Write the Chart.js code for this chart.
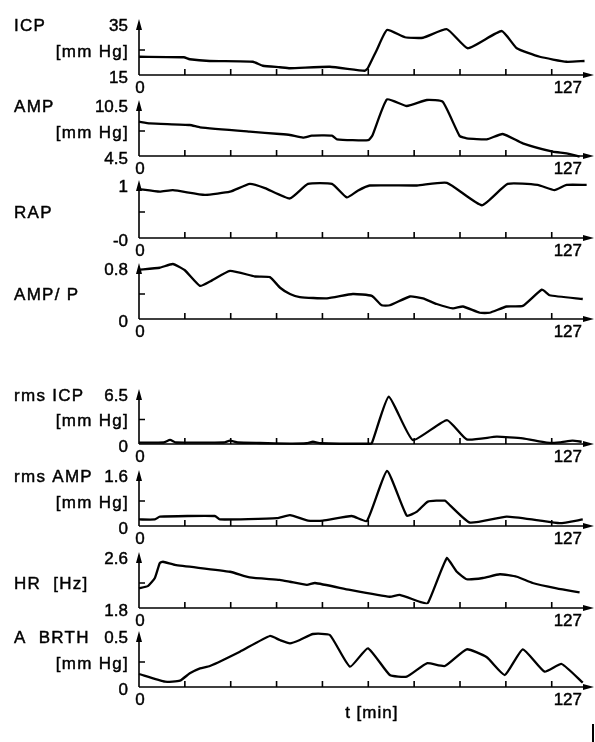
<!DOCTYPE html>
<html>
<head>
<meta charset="utf-8">
<script src="https://cdn.jsdelivr.net/npm/chart.js@4"></script>
<style>
  body { margin: 0; background: #fff; }
  #wrap { position: relative; width: 595px; height: 742px; }
  #wrap canvas { position: absolute; left: 0; top: 0; }
</style>
</head>
<body>
<div id="wrap"></div>
<script>
// time [min] and values
const icpT = [0, 12.7, 14.4, 20, 32.3, 35.1, 39.9, 42.8, 54.1, 64, 64.9, 67.4, 70.3, 75.4, 80.5, 87.3, 93.2, 102.8, 107.1, 113.6, 121.2, 126.3];
const icpV = [22.3, 22.1, 21.3, 20.6, 20.3, 18.7, 18.1, 17.7, 18.3, 16.7, 17.8, 25, 33, 30.1, 29.9, 33.3, 25.7, 32.6, 25.7, 22.3, 20.3, 20.6];

const ampT = [0, 3.1, 14.4, 17.3, 31.4, 39.9, 42.8, 46.5, 49, 54.7, 56.1, 65, 66.2, 70.3, 75.9, 81.6, 86.1, 90.9, 92.9, 98.6, 103.1, 108.8, 117.3, 121.2, 124.9];
const ampV = [8.62, 8.42, 8.22, 7.94, 7.42, 7.14, 7.02, 6.7, 6.94, 6.94, 6.5, 6.4, 7.0, 11.3, 10.5, 11.22, 11.0, 6.9, 6.62, 6.5, 7.14, 6.02, 5.02, 4.82, 4.42];

const rapT = [0, 5.9, 9.6, 18.7, 25.8, 31.4, 35.7, 42.8, 47.9, 54.7, 58.9, 62, 65.4, 78.8, 87.3, 97.2, 104.5, 113, 117.8, 121.2, 126.9];
const rapV = [0.94, 0.89, 0.92, 0.83, 0.89, 1.04, 0.96, 0.76, 1.04, 1.04, 0.78, 0.91, 1.01, 1.01, 1.06, 0.63, 1.04, 1.02, 0.92, 1.02, 1.02];

const ampPT = [0, 5.9, 9.6, 13, 17.3, 20.1, 25.8, 32.9, 37.1, 40, 42.8, 45.6, 53.3, 60.6, 66, 68.8, 71.1, 76.8, 80.5, 84.4, 89, 91.8, 96.6, 99.4, 104.2, 108.8, 114.2, 116.4, 125.8];
const ampPV = [0.79, 0.82, 0.88, 0.78, 0.53, 0.6, 0.77, 0.68, 0.67, 0.5, 0.4, 0.35, 0.33, 0.4, 0.37, 0.22, 0.22, 0.36, 0.33, 0.24, 0.17, 0.2, 0.1, 0.1, 0.2, 0.21, 0.47, 0.38, 0.32];

const rmsIcpT = [0, 7, 8.8, 10.5, 24, 25.8, 28, 34.3, 42.8, 47.5, 49.3, 51.5, 64.9, 66, 70.8, 77.6, 87.3, 92.9, 101.4, 108.8, 115.6, 119.3, 122.9, 125.5];
const rmsIcpV = [0.17, 0.2, 0.55, 0.2, 0.2, 0.45, 0.2, 0.13, 0.05, 0.1, 0.3, 0.1, 0.03, 0.1, 6.27, 0.53, 3.18, 0.62, 0.97, 0.75, 0.17, 0.22, 0.44, 0.3];

const rmsAmpT = [0, 4.5, 5.9, 21.5, 22.9, 39.1, 42.8, 47.9, 52.1, 60.3, 64.6, 70.3, 75.9, 78.8, 81.9, 86.7, 88.1, 93.8, 104.2, 112.7, 119.3, 125.8];
const rmsAmpV = [0.21, 0.21, 0.3, 0.32, 0.21, 0.25, 0.35, 0.17, 0.17, 0.32, 0.16, 1.76, 0.33, 0.46, 0.78, 0.81, 0.67, 0.11, 0.3, 0.19, 0.09, 0.21];

const hrT = [0, 2.5, 4.5, 5.9, 6.8, 10.2, 25.8, 31.4, 39.9, 42.8, 47.6, 49.9, 59.8, 71.1, 73.9, 79.6, 81.9, 87.3, 90.1, 92.9, 97.5, 102.3, 107.1, 111.6, 118.4, 124.9];
const hrV = [2.115, 2.15, 2.28, 2.52, 2.54, 2.49, 2.38, 2.29, 2.25, 2.22, 2.17, 2.2, 2.09, 1.98, 2.01, 1.9, 1.88, 2.6, 2.38, 2.26, 2.28, 2.34, 2.3, 2.2, 2.115, 2.05];

const brthT = [0, 7.4, 11.6, 14.4, 17.3, 20.1, 28.6, 37.1, 39.9, 42.8, 45.6, 49.3, 54.1, 59.8, 64.9, 71.1, 75.9, 81.6, 86.7, 92.9, 98.6, 103.7, 108.8, 115, 119.8, 125.8];
const brthV = [0.13, 0.053, 0.063, 0.137, 0.187, 0.21, 0.353, 0.51, 0.47, 0.437, 0.47, 0.53, 0.52, 0.203, 0.387, 0.12, 0.103, 0.237, 0.21, 0.377, 0.297, 0.12, 0.377, 0.153, 0.23, 0.043];

const tMax = 127;
const tickStep = 13;

// panel layout (pixel positions of top value and baseline)
const panels = [
  {name: 'ICP', unit: '[mm Hg]', t: icpT, v: icpV, min: 15, max: 35, lo: '15', hi: '35', top: 25, base: 75},
  {name: 'AMP', unit: '[mm Hg]', t: ampT, v: ampV, min: 4.5, max: 10.5, lo: '4.5', hi: '10.5', top: 106, base: 156},
  {name: 'RAP', t: rapT, v: rapV, min: 0, max: 1, lo: '-0', hi: '1', top: 186, base: 238, mid: true},
  {name: 'AMP/ P', t: ampPT, v: ampPV, min: 0, max: 0.8, lo: '0', hi: '0.8', top: 269, base: 319, mid: true},
  {name: 'rms ICP', unit: '[mm Hg]', t: rmsIcpT, v: rmsIcpV, min: 0, max: 6.5, lo: '0', hi: '6.5', top: 395, base: 444},
  {name: 'rms AMP', unit: '[mm Hg]', t: rmsAmpT, v: rmsAmpV, min: 0, max: 1.6, lo: '0', hi: '1.6', top: 476, base: 526},
  {name: 'HR  [Hz]', t: hrT, v: hrV, min: 1.8, max: 2.6, lo: '1.8', hi: '2.6', top: 558, base: 608, mid: true},
  {name: 'A  BRTH', unit: '[mm Hg]', t: brthT, v: brthV, min: 0, max: 0.5, lo: '0', hi: '0.5', top: 637, base: 687, last: true}
];

const W = 595, H = 742;
const FONT = '17px "Liberation Sans", Arial, sans-serif';

function label(ctx, txt, x, y) {
  ctx.fillText(txt, x, y);
  ctx.strokeText(txt, x, y);
}

function axesPlugin(p) {
  return {
    id: 'panelAxes',
    afterDraw(chart) {
      const ctx = chart.ctx;
      const xs = chart.scales.x, ys = chart.scales.y;
      const x0 = xs.getPixelForValue(0);
      const xr = xs.getPixelForValue(tMax);
      const yb = ys.getPixelForValue(p.min);
      const yt = ys.getPixelForValue(p.max);
      const ym = ys.getPixelForValue((p.min + p.max) / 2);
      ctx.save();
      ctx.strokeStyle = '#000';
      ctx.fillStyle = '#000';
      ctx.lineWidth = 1.6;
      ctx.beginPath();
      ctx.moveTo(x0, yb); ctx.lineTo(x0, yt);
      ctx.moveTo(x0, yb); ctx.lineTo(xr + 2, yb);
      // inner ticks
      for (let t = tickStep; t < tMax; t += tickStep) {
        const px = xs.getPixelForValue(t);
        ctx.moveTo(px, yb); ctx.lineTo(px, yb - 6);
      }
      ctx.moveTo(x0, ym); ctx.lineTo(x0 + 6, ym);
      ctx.stroke();
      // arrow heads
      ctx.beginPath();
      ctx.moveTo(x0, yt - 6); ctx.lineTo(x0 - 3, yt + 5); ctx.lineTo(x0 + 3, yt + 5); ctx.closePath();
      ctx.moveTo(xr + 7, yb); ctx.lineTo(xr - 4, yb - 3); ctx.lineTo(xr - 4, yb + 3); ctx.closePath();
      ctx.fill();
      // texts
      ctx.font = FONT;
      ctx.lineWidth = 0.45;
      ctx.textBaseline = 'middle';
      ctx.textAlign = 'right';
      label(ctx, p.hi, 128, yt + 1);
      label(ctx, p.lo, 128, yb + 3);
      ctx.letterSpacing = '1.3px';
      if (p.unit) label(ctx, p.unit, 129, ym + 2);
      ctx.textAlign = 'left';
      label(ctx, p.name, 14, p.mid ? ym + 1 : yt + 1);
      ctx.letterSpacing = '0px';
      ctx.textAlign = 'center';
      label(ctx, '0', x0 + 1, yb + 13);
      ctx.textAlign = 'right';
      label(ctx, String(tMax), xr - 5, yb + 13);
      if (p.last) {
        ctx.textAlign = 'center';
        ctx.letterSpacing = '1px';
        label(ctx, 't [min]', xs.getPixelForValue(66), yb + 26);
        ctx.fillRect(592, 724, 2, 18);
      }
      ctx.restore();
    }
  };
}

const wrap = document.getElementById('wrap');
panels.forEach(function (p) {
  const cv = document.createElement('canvas');
  cv.width = W; cv.height = H;
  wrap.appendChild(cv);
  new Chart(cv.getContext('2d'), {
    type: 'line',
    data: {
      datasets: [{
        data: p.t.map((t, i) => ({x: t, y: p.v[i]})),
        borderColor: '#000',
        borderWidth: 2.3,
        pointRadius: 0,
        tension: 0.15,
        clip: false
      }]
    },
    options: {
      responsive: false,
      animation: false,
      devicePixelRatio: 1,
      layout: {padding: {left: 139, right: 8, top: p.top, bottom: H - p.base}},
      plugins: {legend: {display: false}, tooltip: {enabled: false}},
      scales: {
        x: {type: 'linear', min: 0, max: tMax, display: false},
        y: {min: p.min, max: p.max, display: false}
      }
    },
    plugins: [axesPlugin(p)]
  });
});
</script>
</body>
</html>
